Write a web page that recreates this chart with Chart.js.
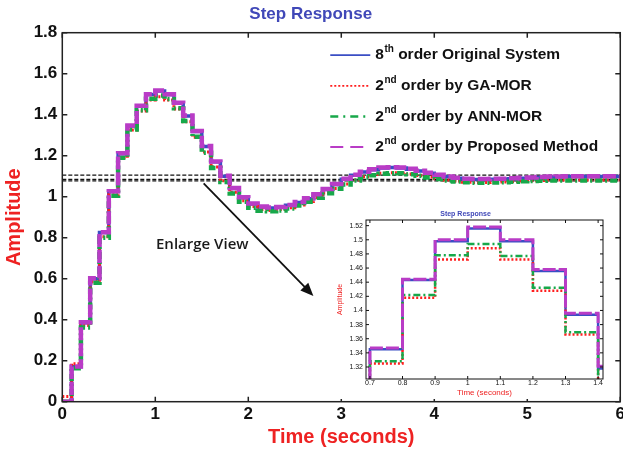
<!DOCTYPE html>
<html>
<head>
<meta charset="utf-8">
<script src="https://cdn.jsdelivr.net/npm/chart.js@4.4.1/dist/chart.umd.min.js"></script>
<style>
  html, body { margin: 0; padding: 0; background: #fff; overflow: hidden; }
  #wrap { position: relative; width: 623px; height: 450px; overflow: hidden; }
  #main { position: absolute; left: 0; top: 0; }
  #inset { position: absolute; left: 328px; top: 207px; background: #fff; }
</style>
</head>
<body>
<div id="wrap">
  <canvas id="main" width="627" height="450"></canvas>
  <canvas id="inset" width="282" height="192"></canvas>
</div>
<script>
// Step response of the 8th order system and three 2nd order reduced models (sampled every 0.1 s)

const timeSec = [
  0.0, 0.1, 0.2, 0.3, 0.4, 0.5, 0.6, 0.7, 0.8, 0.9,
  1.0, 1.1, 1.2, 1.3, 1.4, 1.5, 1.6, 1.7, 1.8, 1.9,
  2.0, 2.1, 2.2, 2.3, 2.4, 2.5, 2.6, 2.7, 2.8, 2.9,
  3.0, 3.1, 3.2, 3.3, 3.4, 3.5, 3.6, 3.7, 3.8, 3.9,
  4.0, 4.1, 4.2, 4.3, 4.4, 4.5, 4.6, 4.7, 4.8, 4.9,
  5.0, 5.1, 5.2, 5.3, 5.4, 5.5, 5.6, 5.7, 5.8, 5.9,
  6.0
];

const originalSystem = [
  0, 0.17, 0.385, 0.60, 0.825, 1.025, 1.21, 1.345, 1.443, 1.498,
  1.516, 1.498, 1.456, 1.394, 1.318, 1.245, 1.17, 1.10, 1.04, 0.995,
  0.965, 0.95, 0.945, 0.948, 0.958, 0.972, 0.99, 1.01, 1.035, 1.06,
  1.085, 1.105, 1.12, 1.132, 1.14, 1.142, 1.14, 1.134, 1.125, 1.115,
  1.105, 1.097, 1.09, 1.086, 1.084, 1.084, 1.085, 1.086, 1.088, 1.09,
  1.092, 1.094, 1.096, 1.097, 1.098, 1.099, 1.099, 1.099, 1.099, 1.099,
  1.099
];

const gaMor = [
  0.025, 0.185, 0.372, 0.585, 0.805, 1.01, 1.19, 1.325, 1.418, 1.472,
  1.488, 1.472, 1.428, 1.366, 1.29, 1.218, 1.145, 1.078, 1.022, 0.98,
  0.952, 0.937, 0.933, 0.937, 0.946, 0.96, 0.977, 0.996, 1.018, 1.04,
  1.062, 1.082, 1.097, 1.108, 1.115, 1.117, 1.116, 1.111, 1.104, 1.096,
  1.088, 1.081, 1.075, 1.071, 1.069, 1.069, 1.07, 1.072, 1.074, 1.076,
  1.078, 1.079, 1.08, 1.081, 1.081, 1.081, 1.081, 1.081, 1.081, 1.081,
  1.081
];

const annMor = [
  0, 0.163, 0.362, 0.58, 0.80, 1.005, 1.19, 1.328, 1.422, 1.478,
  1.494, 1.477, 1.432, 1.369, 1.292, 1.215, 1.14, 1.072, 1.016, 0.975,
  0.946, 0.932, 0.929, 0.933, 0.943, 0.957, 0.975, 0.995, 1.017, 1.039,
  1.06, 1.079, 1.094, 1.105, 1.112, 1.115, 1.114, 1.109, 1.102, 1.094,
  1.086, 1.079, 1.074, 1.07, 1.068, 1.068, 1.069, 1.071, 1.073, 1.075,
  1.077, 1.078, 1.079, 1.079, 1.079, 1.079, 1.079, 1.079, 1.079, 1.079,
  1.079
];

const proposedMethod = [
  0, 0.172, 0.387, 0.602, 0.827, 1.027, 1.212, 1.347, 1.444, 1.50,
  1.518, 1.50, 1.458, 1.396, 1.321, 1.247, 1.172, 1.102, 1.042, 0.997,
  0.967, 0.952, 0.947, 0.95, 0.96, 0.974, 0.992, 1.012, 1.037, 1.062,
  1.087, 1.107, 1.122, 1.134, 1.142, 1.144, 1.142, 1.136, 1.127, 1.117,
  1.107, 1.099, 1.092, 1.088, 1.086, 1.086, 1.087, 1.088, 1.09, 1.092,
  1.094, 1.096, 1.098, 1.099, 1.10, 1.10, 1.10, 1.10, 1.10, 1.10,
  1.10
];

// dashed settling band lines
const bandLevels = [1.105, 1.085, 1.077];

const legendLabels = [
  ['8', 'th', ' order Original System'],
  ['2', 'nd', ' order by GA-MOR'],
  ['2', 'nd', ' order by ANN-MOR'],
  ['2', 'nd', ' order by Proposed Method'],
];

const FONT = "'Liberation Sans', Arial, Helvetica, sans-serif";
const BLUE = '#3a4ec4';
const RED = '#ff1e1e';
const GREEN = '#17a84a';
const MAGENTA = '#b93cc6';
const TITLE_BLUE = '#4048b8';
const LABEL_RED = '#ee2222';

const toPoints = (vals) => timeSec.map((t, i) => ({ x: t, y: vals[i] }));

const seriesStyle = [
  { data: originalSystem, color: BLUE, dash: [], order: 4 },
  { data: gaMor, color: RED, dash: [2, 2], order: 3 },
  { data: annMor, color: GREEN, dash: [7, 3, 2, 3], order: 2 },
  { data: proposedMethod, color: MAGENTA, dash: [13, 3], order: 1 },
];

const makeSeries = (widths) => seriesStyle.map((s, i) => ({
  label: legendLabels[i].join(''),
  data: toPoints(s.data),
  borderColor: s.color,
  borderWidth: widths[i],
  borderDash: s.dash,
  stepped: 'before',
  pointRadius: 0,
  fill: false,
  order: s.order,
}));

// box around the plot area with MATLAB style inward ticks
const frameTicks = {
  id: 'frameTicks',
  afterDatasetsDraw(chart, args, opts) {
    const { ctx, chartArea: a, scales: { x, y } } = chart;
    ctx.save();
    ctx.strokeStyle = opts.color;
    ctx.lineWidth = opts.width;
    ctx.setLineDash([]);
    ctx.strokeRect(a.left, a.top, a.right - a.left, a.bottom - a.top);
    ctx.beginPath();
    x.ticks.forEach((t) => {
      const px = x.getPixelForValue(t.value);
      ctx.moveTo(px, a.bottom); ctx.lineTo(px, a.bottom - opts.len);
      ctx.moveTo(px, a.top); ctx.lineTo(px, a.top + opts.len);
    });
    y.ticks.forEach((t) => {
      const py = y.getPixelForValue(t.value);
      ctx.moveTo(a.left, py); ctx.lineTo(a.left + opts.len, py);
      ctx.moveTo(a.right, py); ctx.lineTo(a.right - opts.len, py);
    });
    ctx.stroke();
    ctx.restore();
  }
};

// legend with superscripts, drawn inside the plot
const supLegend = {
  id: 'supLegend',
  afterDraw(chart) {
    const { ctx, chartArea: a } = chart;
    const x0 = a.right - 290;
    ctx.save();
    ctx.textBaseline = 'middle';
    ctx.fillStyle = '#111';
    legendLabels.forEach((lab, i) => {
      const y = a.top + 22.5 + i * 30.6;
      const s = seriesStyle[i];
      ctx.strokeStyle = s.color;
      ctx.lineWidth = i === 2 ? 2.5 : 1.8;
      ctx.setLineDash(i === 1 ? [2, 2] : i === 2 ? [8, 5, 2, 5] : i === 3 ? [13, 7] : []);
      ctx.beginPath();
      ctx.moveTo(x0, y); ctx.lineTo(x0 + 40, y);
      ctx.stroke();
      let tx = x0 + 45;
      ctx.font = `bold 15.5px ${FONT}`;
      ctx.fillText(lab[0], tx, y);
      tx += ctx.measureText(lab[0]).width + 0.5;
      ctx.font = `bold 10px ${FONT}`;
      ctx.fillText(lab[1], tx, y - 6);
      tx += ctx.measureText(lab[1]).width;
      ctx.font = `bold 15.5px ${FONT}`;
      ctx.fillText(lab[2], tx, y);
    });
    ctx.restore();
  }
};

// "Enlarge View" note with arrow, placed in data coordinates
const enlargeNote = {
  id: 'enlargeNote',
  afterDraw(chart, args, opts) {
    const { ctx, scales: { x, y } } = chart;
    const x1 = x.getPixelForValue(opts.from[0]), y1 = y.getPixelForValue(opts.from[1]);
    const x2 = x.getPixelForValue(opts.to[0]), y2 = y.getPixelForValue(opts.to[1]);
    const ang = Math.atan2(y2 - y1, x2 - x1);
    ctx.save();
    ctx.strokeStyle = '#111';
    ctx.fillStyle = '#111';
    ctx.lineWidth = 1.8;
    ctx.setLineDash([]);
    ctx.beginPath();
    ctx.moveTo(x1, y1);
    ctx.lineTo(x2 - 8 * Math.cos(ang), y2 - 8 * Math.sin(ang));
    ctx.stroke();
    ctx.beginPath();
    ctx.moveTo(x2, y2);
    ctx.lineTo(x2 - 13 * Math.cos(ang) + 5.5 * Math.sin(ang), y2 - 13 * Math.sin(ang) - 5.5 * Math.cos(ang));
    ctx.lineTo(x2 - 13 * Math.cos(ang) - 5.5 * Math.sin(ang), y2 - 13 * Math.sin(ang) + 5.5 * Math.cos(ang));
    ctx.closePath();
    ctx.fill();
    ctx.font = "600 15px 'Open Sans', sans-serif";
    ctx.textAlign = 'center';
    ctx.textBaseline = 'middle';
    ctx.fillStyle = '#1a1a1a';
    ctx.fillText(opts.text, x.getPixelForValue(opts.textAt[0]), y.getPixelForValue(opts.textAt[1]));
    ctx.restore();
  }
};

const trimNum = (v) => String(+Number(v).toFixed(2));

const bandSets = bandLevels.map((lvl) => ({
  label: 'band',
  data: [{ x: timeSec[0], y: lvl }, { x: timeSec[timeSec.length - 1], y: lvl }],
  borderColor: '#111',
  borderWidth: 1.3,
  borderDash: [4, 2],
  pointRadius: 0,
  order: 10,
}));

new Chart(document.getElementById('main'), {
  type: 'line',
  data: { datasets: [...makeSeries([3.5, 3, 4.5, 4.5]), ...bandSets] },
  plugins: [frameTicks, supLegend, enlargeNote],
  options: {
    responsive: false,
    animation: false,
    devicePixelRatio: 1,
    layout: { padding: { top: 0, right: 5.5, bottom: 0, left: 0 } },
    plugins: {
      legend: { display: false },
      tooltip: { enabled: false },
      title: {
        display: true,
        text: 'Step Response',
        color: TITLE_BLUE,
        font: { family: FONT, size: 17, weight: 'bold' },
        padding: { top: 4.5, bottom: 7.8 },
      },
      frameTicks: { color: '#222', width: 1.5, len: 5 },
      enlargeNote: { from: [1.52, 1.065], to: [2.7, 0.516], textAt: [1.505, 0.764], text: 'Enlarge View' },
    },
    scales: {
      x: {
        type: 'linear',
        min: 0,
        max: 6,
        afterFit: (s) => { s.height = 48.3; },
        grid: { display: false, drawTicks: false },
        border: { display: false },
        ticks: { stepSize: 1, padding: 2, color: '#111', font: { family: FONT, size: 17, weight: 'bold' }, callback: trimNum },
        title: {
          display: true,
          text: 'Time (seconds)',
          color: LABEL_RED,
          font: { family: FONT, size: 20, weight: 'bold' },
          padding: { top: 0, bottom: 1 },
        },
      },
      y: {
        min: 0,
        max: 1.8,
        afterFit: (s) => { s.width = 62.3; },
        grid: { display: false, drawTicks: false },
        border: { display: false },
        ticks: { stepSize: 0.2, padding: 5, color: '#111', font: { family: FONT, size: 17, weight: 'bold' }, callback: trimNum },
        title: {
          display: true,
          text: 'Amplitude',
          color: LABEL_RED,
          font: { family: FONT, size: 20, weight: 'bold' },
          padding: { top: 2, bottom: 0 },
        },
      },
    },
  },
});

// enlarged view of the first peak
new Chart(document.getElementById('inset'), {
  type: 'line',
  data: { datasets: makeSeries([2.5, 2.5, 2.5, 3]) },
  plugins: [frameTicks],
  options: {
    responsive: false,
    animation: false,
    devicePixelRatio: 1,
    layout: { padding: { top: 0, right: 7, bottom: 0, left: 0 } },
    plugins: {
      legend: { display: false },
      tooltip: { enabled: false },
      title: {
        display: true,
        text: 'Step Response',
        color: TITLE_BLUE,
        font: { family: FONT, size: 7, weight: 'bold' },
        padding: { top: 3, bottom: 1.6 },
      },
      frameTicks: { color: '#111', width: 1, len: 3 },
    },
    scales: {
      x: {
        type: 'linear',
        min: 0.688,
        max: 1.415,
        afterFit: (s) => { s.height = 20; },
        grid: { display: false, drawTicks: false },
        border: { display: false },
        ticks: { stepSize: 0.1, includeBounds: false, padding: 0, color: '#111', font: { family: FONT, size: 7 }, callback: trimNum },
        title: {
          display: true,
          text: 'Time (seconds)',
          color: LABEL_RED,
          font: { family: FONT, size: 8 },
          padding: { top: 0, bottom: 1.2 },
        },
      },
      y: {
        min: 1.303,
        max: 1.528,
        afterFit: (s) => { s.width = 38; },
        grid: { display: false, drawTicks: false },
        border: { display: false },
        ticks: { stepSize: 0.02, includeBounds: false, padding: 3, color: '#111', font: { family: FONT, size: 7 }, callback: trimNum },
        title: {
          display: true,
          text: 'Amplitude',
          color: LABEL_RED,
          font: { family: FONT, size: 7 },
          padding: { top: 7.8, bottom: 0 },
        },
      },
    },
  },
});
</script>
</body>
</html>
